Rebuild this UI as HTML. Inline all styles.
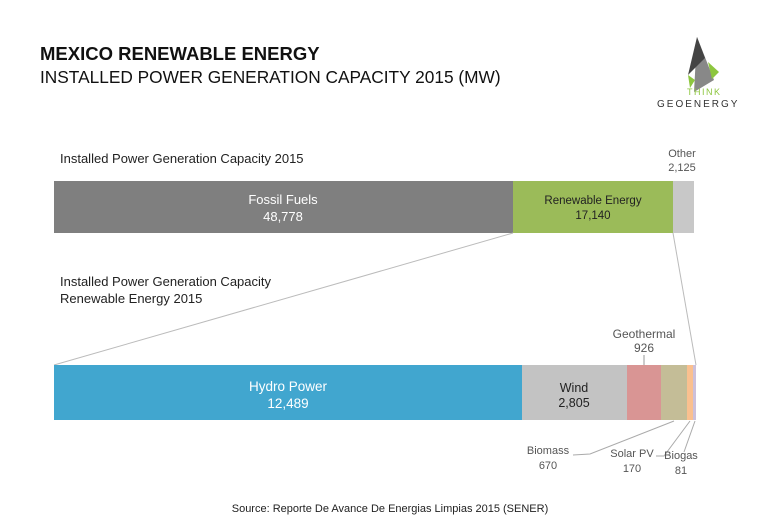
<!DOCTYPE html><html><head><style>body{margin:0;background:#fff}svg{display:block;font-family:"Liberation Sans",sans-serif}</style></head><body>
<svg width="768" height="530" xmlns="http://www.w3.org/2000/svg">
<text x="40" y="60" font-size="18.5" font-weight="bold" fill="#111">MEXICO RENEWABLE ENERGY</text>
<text x="40" y="83" font-size="17.3" fill="#111">INSTALLED POWER GENERATION CAPACITY 2015 (MW)</text>
<polygon points="697,37 714,80 694,92" fill="#888"/><polygon points="697,37 705,58 688,75" fill="#444"/><polygon points="708,62 719,72 712,79" fill="#8dc63f"/><polygon points="688,75 695,80 690,88" fill="#8dc63f"/>
<text x="687" y="95" font-size="9" fill="#8dc63f" letter-spacing="1.5">THINK</text>
<text x="657" y="107" font-size="10" fill="#333" letter-spacing="2">GEOENERGY</text>
<text x="60" y="163" font-size="13" fill="#222">Installed Power Generation Capacity 2015</text>
<text x="682" y="157" font-size="11" fill="#555" text-anchor="middle">Other</text>
<text x="682" y="171" font-size="11" fill="#555" text-anchor="middle">2,125</text>
<rect x="54" y="181" width="459" height="52" fill="#7f7f7f"/>
<rect x="513" y="181" width="160" height="52" fill="#9bbb59"/>
<rect x="673" y="181" width="21" height="52" fill="#c8c8c8"/>
<text x="283" y="204" font-size="13" fill="#fff" text-anchor="middle">Fossil Fuels</text>
<text x="283" y="221" font-size="13" fill="#fff" text-anchor="middle">48,778</text>
<text x="593" y="204" font-size="11.5" fill="#222" text-anchor="middle">Renewable Energy</text>
<text x="593" y="219" font-size="11.5" fill="#222" text-anchor="middle">17,140</text>
<line x1="513" y1="233" x2="54" y2="365" stroke="#bbb"/><line x1="673" y1="233" x2="696" y2="365" stroke="#bbb"/>
<text x="60" y="286" font-size="13" fill="#222">Installed Power Generation Capacity</text>
<text x="60" y="303" font-size="13" fill="#222">Renewable Energy 2015</text>
<text x="644" y="338" font-size="12" fill="#555" text-anchor="middle">Geothermal</text>
<text x="644" y="352" font-size="12" fill="#555" text-anchor="middle">926</text>
<line x1="644" y1="355" x2="644" y2="365" stroke="#999"/>
<rect x="54" y="365" width="468" height="55" fill="#41a6cf"/>
<rect x="522" y="365" width="105" height="55" fill="#c3c3c3"/>
<rect x="627" y="365" width="34" height="55" fill="#d99594"/>
<rect x="661" y="365" width="26" height="55" fill="#c4bd97"/>
<rect x="687" y="365" width="6" height="55" fill="#fac08f"/>
<rect x="693" y="365" width="3" height="55" fill="#ccc0da"/>
<text x="288" y="391" font-size="13.5" fill="#fff" text-anchor="middle">Hydro Power</text>
<text x="288" y="408" font-size="13.5" fill="#fff" text-anchor="middle">12,489</text>
<text x="574" y="392" font-size="12.5" fill="#222" text-anchor="middle">Wind</text>
<text x="574" y="407" font-size="12.5" fill="#222" text-anchor="middle">2,805</text>
<polyline points="674,421 590,454 573,455" fill="none" stroke="#aaa"/>
<polyline points="690,421 664,456 656,456" fill="none" stroke="#aaa"/>
<line x1="695" y1="421" x2="684" y2="452" stroke="#aaa"/>
<text x="548" y="454" font-size="11" fill="#555" text-anchor="middle">Biomass</text>
<text x="548" y="469" font-size="11" fill="#555" text-anchor="middle">670</text>
<text x="632" y="457" font-size="11" fill="#555" text-anchor="middle">Solar PV</text>
<text x="632" y="472" font-size="11" fill="#555" text-anchor="middle">170</text>
<text x="681" y="459" font-size="11" fill="#555" text-anchor="middle">Biogas</text>
<text x="681" y="474" font-size="11" fill="#555" text-anchor="middle">81</text>
<text x="390" y="512" font-size="11" fill="#222" text-anchor="middle">Source: Reporte De Avance De Energias Limpias 2015 (SENER)</text>
</svg></body></html>
